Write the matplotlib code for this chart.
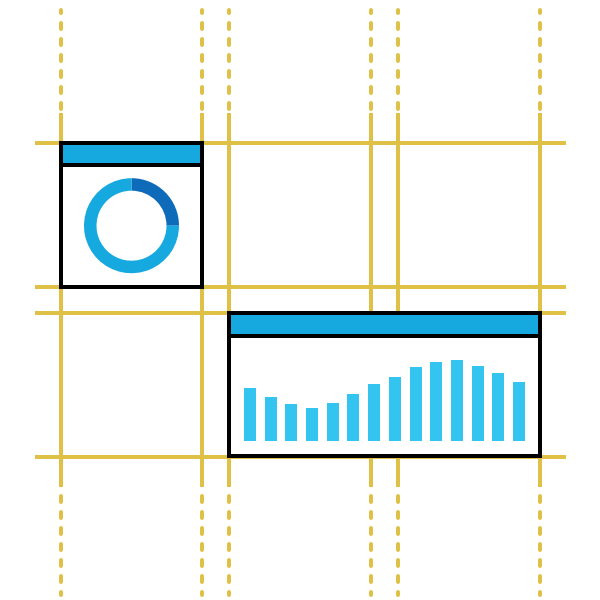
import numpy as np
import matplotlib.pyplot as plt
from matplotlib.patches import Rectangle

plt.rcParams['lines.scale_dashes'] = False

# guide grid (pixel positions on a 600x600 canvas)
guide_x = [61, 202, 229, 371, 398, 540]
guide_y = [143, 287, 313, 457]

# donut: dark share / light share
donut_share = [25, 75]
donut_colors = ['#0E6BBA', '#15A9E0']

# bar widget values (bar heights)
bar_values = [53, 44, 37, 33, 38, 47, 57, 64, 74, 79, 81, 75, 68, 59]

yellow = '#E0C148'
header_blue = '#15A9E0'
bar_blue = '#33C4F0'
px = 0.72  # one pixel in points at dpi 100

fig = plt.figure(figsize=(6, 6), dpi=100)
ax = fig.add_axes([0, 0, 1, 1])
ax.set_xlim(0, 600)
ax.set_ylim(600, 0)
ax.axis('off')

# solid guides
for x in guide_x:
    ax.plot([x, x], [113, 487], color=yellow, lw=4 * px,
            solid_capstyle='butt', zorder=1)
    # dashed extensions, top and bottom
    dash = (0, (6 * px, 10 * px))
    ax.plot([x, x], [109, 10], color=yellow, lw=4 * px, linestyle=dash,
            dash_capstyle='round', zorder=1)
    ax.plot([x, x], [496, 595], color=yellow, lw=4 * px, linestyle=dash,
            dash_capstyle='round', zorder=1)
for y in guide_y:
    ax.plot([35, 566], [y, y], color=yellow, lw=4 * px,
            solid_capstyle='butt', zorder=1)


def panel(x0, y0, x1, y1, header_bottom):
    ax.add_patch(Rectangle((x0, y0), x1 - x0, y1 - y0, facecolor='white',
                           edgecolor='none', zorder=3))
    ax.add_patch(Rectangle((x0, y0), x1 - x0, header_bottom - y0,
                           facecolor=header_blue, edgecolor='none', zorder=3))
    ax.plot([x0, x1], [header_bottom, header_bottom], color='black',
            lw=4 * px, solid_capstyle='butt', zorder=5)
    ax.add_patch(Rectangle((x0, y0), x1 - x0, y1 - y0, facecolor='none',
                           edgecolor='black', lw=4 * px, joinstyle='miter',
                           zorder=6))


panel(61, 143, 202, 287, 165.3)
panel(229.3, 313, 540.3, 456, 335.7)

# donut
ax.pie(donut_share, colors=donut_colors, startangle=-90, counterclock=True,
       radius=47.5, center=(131.5, 225.7), frame=True,
       wedgeprops=dict(width=12.5, edgecolor='none', zorder=4))
ax.set_xlim(0, 600)
ax.set_ylim(600, 0)
ax.axis('off')

# bar widget
step = 20.69
left_px, right_px = 239, 530
base_px, top_px = 441, 341
bx = fig.add_axes([left_px / 600, (600 - base_px) / 600,
                   (right_px - left_px) / 600, (base_px - top_px) / 600])
bx.set_zorder(10)
xs = np.arange(len(bar_values))
bx.bar(xs, bar_values, width=12 / step, color=bar_blue, linewidth=0)
bx.set_xlim((left_px - 250) / step, (right_px - 250) / step)
bx.set_ylim(0, base_px - top_px)
bx.axis('off')

fig.savefig('out.png', dpi=100)
